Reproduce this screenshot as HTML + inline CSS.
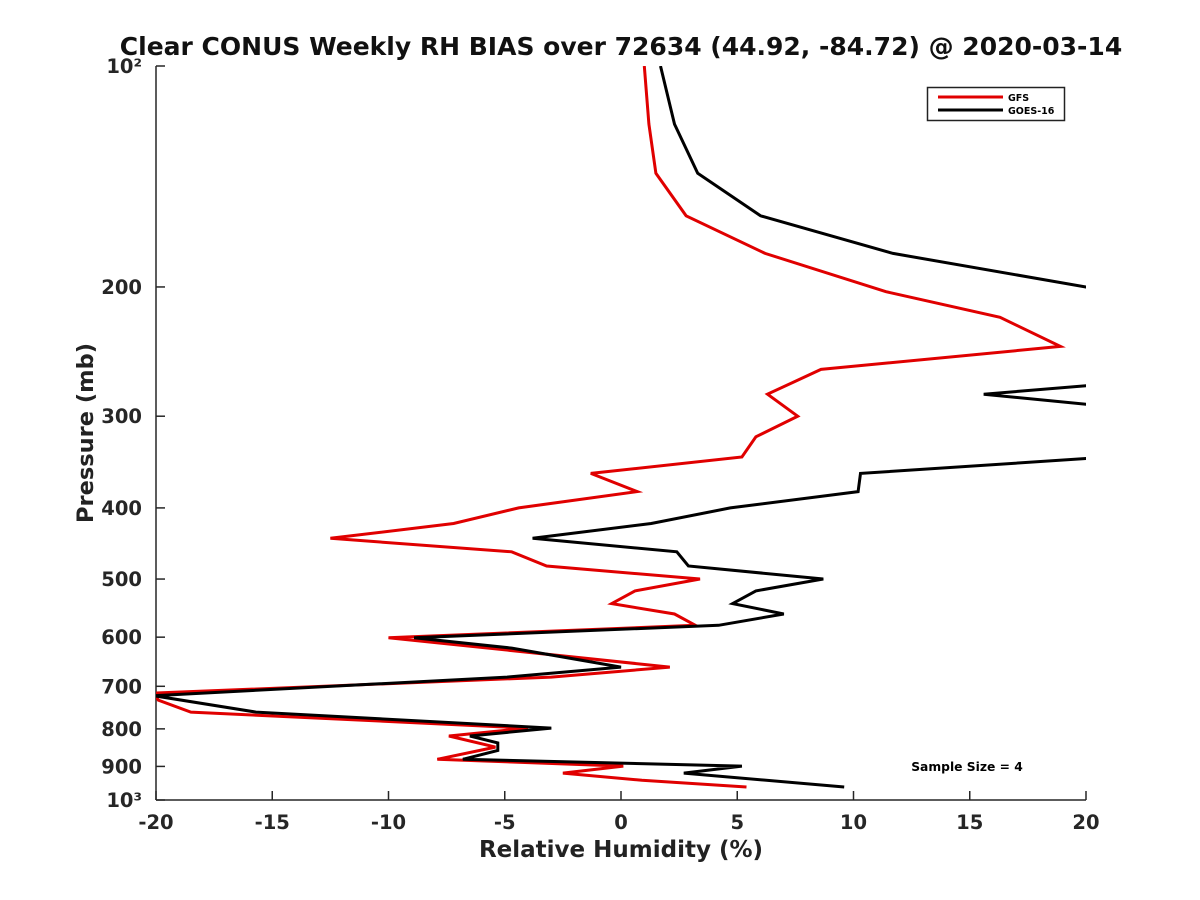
<!DOCTYPE html>
<html><head><meta charset="utf-8"><style>
html,body{margin:0;padding:0;background:#fff;}
svg{display:block;font-family:"DejaVu Sans","Liberation Sans",sans-serif;font-weight:bold;}
</style></head><body>
<svg id="chart" width="1200" height="900" viewBox="0 0 1200 900" xmlns="http://www.w3.org/2000/svg">
<defs><clipPath id="plotclip"><rect x="156" y="66" width="930" height="734"/></clipPath></defs>
<text x="621" y="55" text-anchor="middle" font-size="25" fill="#111">Clear CONUS Weekly RH BIAS over 72634 (44.92, -84.72) @ 2020-03-14</text>
<g id="axes"></g>
<g id="series" clip-path="url(#plotclip)"></g>
<text x="621" y="857" text-anchor="middle" font-size="23" fill="#222">Relative Humidity (%)</text>
<text transform="translate(93,433) rotate(-90)" text-anchor="middle" font-size="22.5" fill="#222">Pressure (mb)</text>
<text x="967" y="771" text-anchor="middle" font-size="12.3" fill="#000">Sample Size = 4</text>
<g>
<rect x="927.5" y="87.5" width="137" height="33" fill="#fff" stroke="#222" stroke-width="1.5"/>
<line x1="938" y1="97" x2="1003" y2="97" stroke="#e00000" stroke-width="3"/>
<text x="1008" y="101" font-size="9.5" fill="#000">GFS</text>
<line x1="938" y1="110" x2="1003" y2="110" stroke="#000" stroke-width="3"/>
<text x="1008" y="114" font-size="9.5" fill="#000">GOES-16</text>
</g>
</svg>
<script>
const xTicks = [-20,-15,-10,-5,0,5,10,15,20];
const yTicks = [100,200,300,400,500,600,700,800,900,1000];
const yTickLabels = ["10²","200","300","400","500","600","700","800","900","10³"];
const gfsPressure = [100,120,140,160,180,203,220,241,259,280,300,320,341,359,380,400,420,440,459,480,500,519,540,558,578,601,659,680,715,731,759,798,818,847,880,899,919,940,960];
const gfsValues = [1.0,1.2,1.5,2.8,6.2,11.4,16.3,18.9,8.6,6.3,7.6,5.8,5.2,-1.3,0.7,-4.4,-7.2,-12.5,-4.7,-3.2,3.4,0.6,-0.4,2.3,3.2,-10.0,2.1,-3.0,-20.1,-19.9,-18.5,-4.0,-7.4,-5.4,-7.9,0.1,-2.5,0.9,5.4];
const goesPressure = [100,120,140,160,180,200,220,240,260,271,280,291,320,341,359,380,400,420,440,459,480,500,519,540,558,578,601,621,659,680,721,759,798,818,836,856,880,899,919,960];
const goesValues = [1.7,2.3,3.3,6.0,11.7,20,24,27,24,21,15.6,21,25,21,10.3,10.2,4.7,1.3,-3.8,2.4,2.9,8.7,5.8,4.8,7.0,4.2,-8.9,-4.7,0.0,-4.9,-20.1,-15.7,-3.0,-6.5,-5.3,-5.3,-6.8,5.2,2.7,9.6];

const NS="http://www.w3.org/2000/svg";
const L=156,R=1086,T=66,B=800;
function xs(v){return L+(v+20)/40*(R-L);}
function ys(p){return T+(Math.log10(p)-2)*(B-T);}
function mk(tag,attrs,parent){const e=document.createElementNS(NS,tag);for(const k in attrs)e.setAttribute(k,attrs[k]);parent.appendChild(e);return e;}
const axes=document.getElementById('axes');
const yl=mk('line',{x1:L,y1:T,x2:L,y2:B,stroke:'#262626','stroke-width':1.5},axes);


const xl=mk('line',{x1:L,y1:B,x2:R,y2:B,stroke:'#262626','stroke-width':1.5},axes);


xTicks.forEach(v=>{
  const x=xs(v);
  const t=mk('line',{x1:x,y1:B,x2:x,y2:B-9,stroke:'#262626','stroke-width':1.5},axes);
  
  
  const tx=mk('text',{x:x,y:B+29,'text-anchor':'middle','font-size':19.5,fill:'#262626'},axes);
  tx.textContent=String(v);
  
  
});
yTicks.forEach((p,i)=>{
  const y=ys(p);
  const t=mk('line',{x1:L,y1:y,x2:L+9,y2:y,stroke:'#262626','stroke-width':1.5},axes);
  
  
  const tx=mk('text',{x:L-14,y:y+7,'text-anchor':'end','font-size':19.5,fill:'#262626'},axes);
  tx.textContent=yTickLabels[i];
  
  
});
const series=document.getElementById('series');
function line(ps,vs,color,name){
  const pts=ps.map((p,i)=>xs(vs[i]).toFixed(1)+','+ys(p).toFixed(1)).join(' ');
  const pl=mk('polyline',{points:pts,fill:'none',stroke:color,'stroke-width':3,'stroke-linejoin':'miter'},series);
  
  
}
line(gfsPressure,gfsValues,'#e00000','gfs-line');
line(goesPressure,goesValues,'#000000','goes16-line');
</script>
</body></html>
